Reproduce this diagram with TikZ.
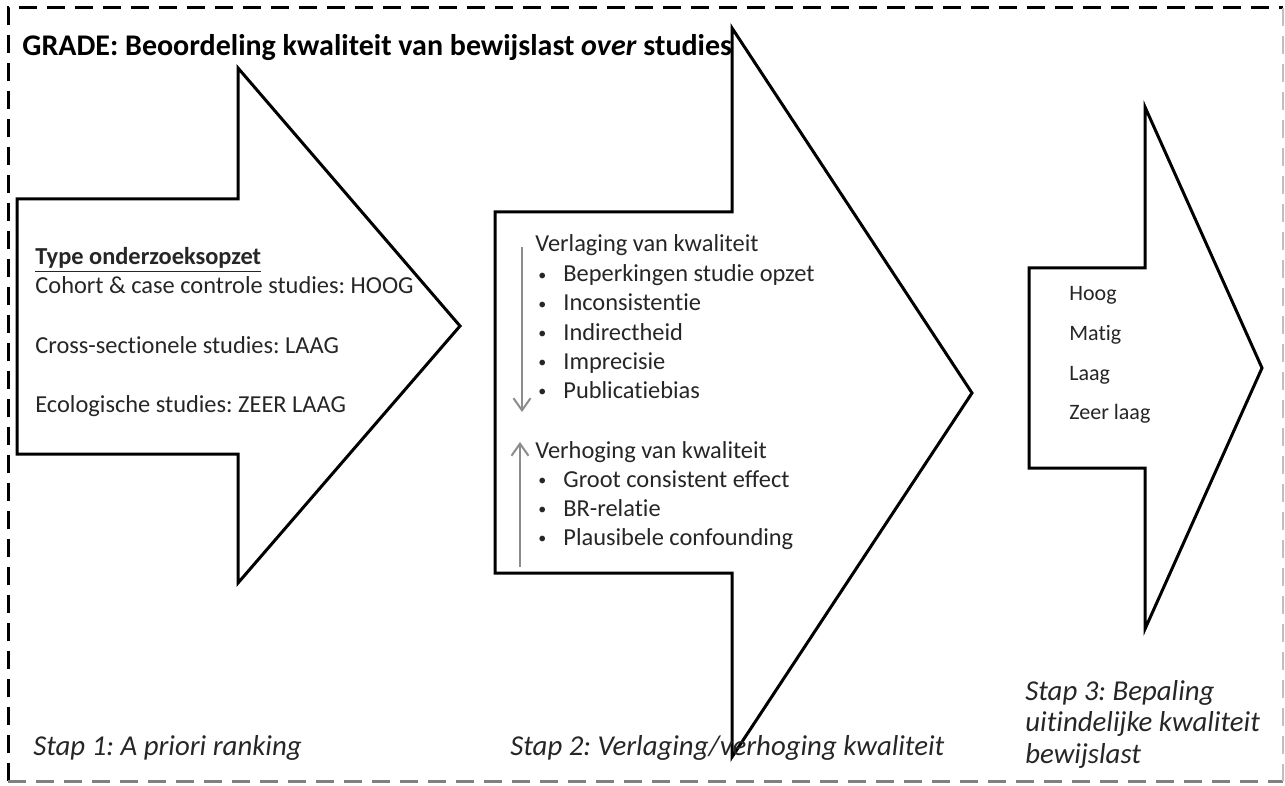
\documentclass[tikz,border=0pt]{standalone}
\usepackage{fontspec}
\setmainfont{Carlito}[Ligatures=NoCommon]
\usetikzlibrary{arrows.meta}
\frenchspacing

\newcommand{\bolletje}{\raisebox{0.9pt}{\fontsize{8}{8}\selectfont\textbullet}}

\tikzset{
	pijl/.style={draw=black, line width=1.5pt, fill=white, line join=miter},
	kader/.style={dash pattern=on 9pt off 5pt, line width=1.5pt},
	tekst/.style={anchor=base west, inner sep=0pt, font=\fontsize{12.2}{14.6}\selectfont, text=black!85},
	lijst/.style={anchor=base west, inner sep=0pt, font=\fontsize{11}{13}\selectfont, text=black!85},
	stap/.style={anchor=base west, inner sep=0pt, font=\fontsize{14.4}{17}\selectfont\itshape, text=black!85},
	richting/.style={-{Straight Barb[length=6pt, width=8.5pt]}, draw=black!45, line width=1pt},
}

\begin{document}
\begin{tikzpicture}[x=0.5pt,y=-0.5pt]
			\useasboundingbox (0,0) rectangle (1285,786);
			% kader rondom
			\draw[kader] (8,781) -- (8,8) -- (1283,8);
			\draw[kader, draw=black!50] (8,781) -- (1283,781);
			\draw[kader, draw=black!25, line width=0.8pt] (1283,8) -- (1283,781);
			% de drie pijlen
			\draw[pijl] (17,199) -- (238,199) -- (238,68) -- (460,326) -- (238,583) -- (238,454) -- (17,454) -- cycle;
			\draw[pijl] (495,212) -- (732,212) -- (732,28) -- (972,393) -- (732,757) -- (732,573) -- (495,573) -- cycle;
			\draw[pijl] (1029,268) -- (1145,268) -- (1145,107) -- (1262,368) -- (1145,629) -- (1145,468) -- (1029,468) -- cycle;
			\node[anchor=base west, inner sep=0pt, font=\fontsize{15}{18}\selectfont\bfseries] (titel) at (22,56) {GRADE: Beoordeling kwaliteit van bewijslast \textit{over} studies};
			% stap 1
			\node[tekst] (type) at (35,265) {\textbf{\underline{Type onderzoeksopzet}}};
			\node[tekst] (cohort) at (35,293) {Cohort \& case controle studies: HOOG};
			\node[tekst] (cross) at (35,353) {Cross-sectionele studies: LAAG};
			\node[tekst] (eco) at (35,412) {Ecologische studies: ZEER LAAG};
			% stap 2
			\node[tekst] (verlaging) at (535,252) {Verlaging van kwaliteit};
			\node[tekst] (b1) at (538,282) {\bolletje};
			\node[tekst] (beperking) at (563,282) {Beperkingen studie opzet};
			\node[tekst] (b2) at (538,311) {\bolletje};
			\node[tekst] (inconsistent) at (563,311) {Inconsistentie};
			\node[tekst] (b3) at (538,340) {\bolletje};
			\node[tekst] (indirect) at (563,340) {Indirectheid};
			\node[tekst] (b4) at (538,369) {\bolletje};
			\node[tekst] (imprecies) at (563,369) {Imprecisie};
			\node[tekst] (b5) at (538,398) {\bolletje};
			\node[tekst] (publicatie) at (563,398) {Publicatiebias};
			\node[tekst] (verhoging) at (535,458) {Verhoging van kwaliteit};
			\node[tekst] (b6) at (538,487) {\bolletje};
			\node[tekst] (groot) at (563,487) {Groot consistent effect};
			\node[tekst] (b7) at (538,516) {\bolletje};
			\node[tekst] (br) at (563,516) {BR-relatie};
			\node[tekst] (b8) at (538,545) {\bolletje};
			\node[tekst] (plausibel) at (563,545) {Plausibele confounding};
			\coordinate (neerbegin) at (522,247);
			\coordinate (neereind) at (522,412);
			\coordinate (opbegin) at (520,567);
			\coordinate (opeind) at (520,442);
			\draw[richting] (neerbegin) -- (neereind);
			\draw[richting] (opbegin) -- (opeind);
			% stap 3
			\node[lijst] (hoog) at (1069,300) {Hoog};
			\node[lijst] (matig) at (1069,340) {Matig};
			\node[lijst] (laag) at (1069,380) {Laag};
			\node[lijst] (zeerlaag) at (1069,419) {Zeer laag};
			% onderschriften
			\node[stap] (stap1) at (33,755) {Stap 1: A priori ranking};
			\node[stap] (stap2) at (510,755) {Stap 2: Verlaging/verhoging kwaliteit};
			\node[stap] (stap3a) at (1025,700) {Stap 3: Bepaling};
			\node[stap] (stap3b) at (1025,731) {uitindelijke kwaliteit};
			\node[stap] (stap3c) at (1025,763) {bewijslast};
		\end{tikzpicture}
\end{document}
